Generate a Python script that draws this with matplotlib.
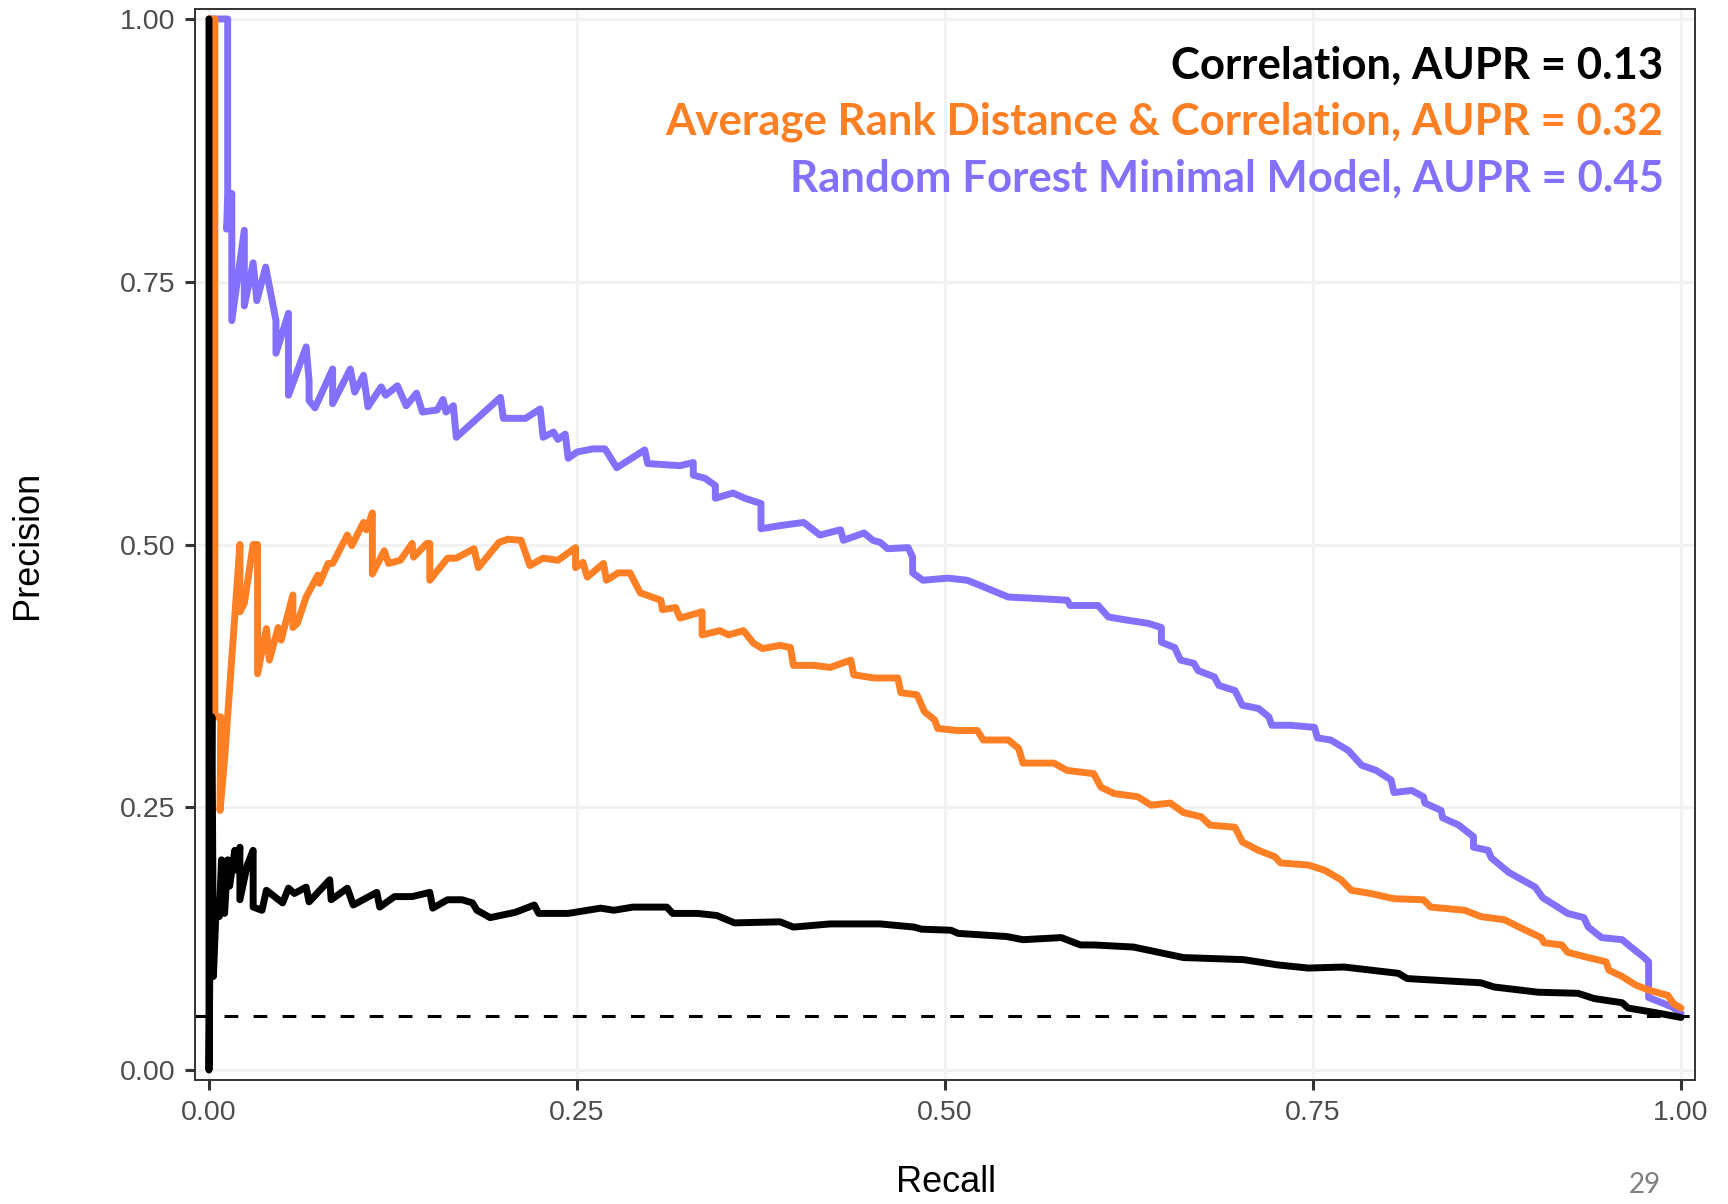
import matplotlib
matplotlib.use("Agg")
import matplotlib.pyplot as plt

# precision-recall points for the three predictors
corr_recall = [0.0, 0.0, 0.002, 0.003, 0.005, 0.007, 0.0085, 0.0106, 0.0127, 0.014, 0.0175, 0.019,
               0.021, 0.021, 0.026, 0.030, 0.030, 0.036, 0.039, 0.050, 0.054, 0.058, 0.066, 0.068,
               0.082, 0.083, 0.094, 0.098, 0.114, 0.116, 0.126, 0.138, 0.150, 0.152, 0.162, 0.172,
               0.179, 0.182, 0.191, 0.208, 0.221, 0.224, 0.244, 0.266, 0.275, 0.288, 0.311, 0.315,
               0.332, 0.345, 0.357, 0.388, 0.397, 0.422, 0.456, 0.479, 0.484, 0.504, 0.509, 0.542,
               0.553, 0.579, 0.592, 0.601, 0.628, 0.662, 0.703, 0.726, 0.747, 0.771, 0.808, 0.814,
               0.851, 0.864, 0.873, 0.903, 0.930, 0.941, 0.960, 0.964, 0.985, 1.0]
corr_precision = [1.0, 0.0, 0.336, 0.089, 0.160, 0.146, 0.200, 0.149, 0.200, 0.175, 0.209, 0.190,
                  0.212, 0.162, 0.195, 0.209, 0.155, 0.152, 0.171, 0.159, 0.173, 0.168, 0.174, 0.160,
                  0.181, 0.162, 0.173, 0.157, 0.169, 0.155, 0.165, 0.165, 0.169, 0.154, 0.162, 0.162,
                  0.159, 0.152, 0.145, 0.150, 0.157, 0.149, 0.149, 0.154, 0.152, 0.155, 0.155, 0.149,
                  0.149, 0.147, 0.140, 0.141, 0.136, 0.139, 0.139, 0.136, 0.134, 0.133, 0.130, 0.127,
                  0.124, 0.126, 0.119, 0.119, 0.117, 0.107, 0.105, 0.100, 0.097, 0.098, 0.092, 0.087,
                  0.084, 0.083, 0.079, 0.074, 0.073, 0.068, 0.064, 0.059, 0.054, 0.050]

rank_recall = [0.0, 0.004, 0.004, 0.008, 0.0075, 0.0107, 0.021, 0.021, 0.024, 0.030, 0.033, 0.033,
               0.039, 0.041, 0.047, 0.049, 0.057, 0.057, 0.060, 0.066, 0.074, 0.075, 0.081, 0.084,
               0.094, 0.097, 0.105, 0.107, 0.111, 0.111, 0.119, 0.122, 0.130, 0.138, 0.139, 0.148,
               0.150, 0.150, 0.162, 0.168, 0.180, 0.183, 0.197, 0.203, 0.212, 0.215, 0.218, 0.227,
               0.237, 0.249, 0.249, 0.254, 0.257, 0.268, 0.270, 0.278, 0.286, 0.293, 0.307, 0.308,
               0.317, 0.320, 0.335, 0.335, 0.347, 0.353, 0.363, 0.370, 0.376, 0.388, 0.395, 0.397,
               0.411, 0.422, 0.436, 0.438, 0.452, 0.468, 0.470, 0.481, 0.486, 0.493, 0.495, 0.508,
               0.522, 0.526, 0.543, 0.550, 0.553, 0.574, 0.583, 0.601, 0.606, 0.615, 0.631, 0.640,
               0.653, 0.662, 0.674, 0.680, 0.697, 0.702, 0.713, 0.724, 0.728, 0.747, 0.758, 0.769,
               0.776, 0.789, 0.805, 0.825, 0.830, 0.853, 0.864, 0.880, 0.890, 0.905, 0.907, 0.919,
               0.923, 0.937, 0.949, 0.951, 0.960, 0.969, 0.978, 0.991, 0.995, 1.0]
rank_precision = [1.0, 1.0, 0.336, 0.336, 0.247, 0.298, 0.500, 0.436, 0.444, 0.500, 0.500, 0.377,
                  0.420, 0.390, 0.421, 0.409, 0.452, 0.421, 0.425, 0.450, 0.471, 0.463, 0.482, 0.482,
                  0.509, 0.499, 0.521, 0.514, 0.530, 0.472, 0.494, 0.482, 0.485, 0.501, 0.488, 0.501,
                  0.501, 0.466, 0.487, 0.487, 0.496, 0.478, 0.502, 0.505, 0.504, 0.492, 0.480, 0.487,
                  0.485, 0.497, 0.478, 0.483, 0.469, 0.482, 0.466, 0.473, 0.473, 0.454, 0.447, 0.438,
                  0.440, 0.430, 0.436, 0.414, 0.418, 0.414, 0.418, 0.406, 0.401, 0.404, 0.402, 0.385,
                  0.385, 0.383, 0.390, 0.376, 0.373, 0.373, 0.359, 0.357, 0.341, 0.333, 0.325, 0.323,
                  0.323, 0.314, 0.314, 0.306, 0.292, 0.292, 0.285, 0.282, 0.269, 0.263, 0.260, 0.252,
                  0.254, 0.245, 0.241, 0.233, 0.231, 0.217, 0.209, 0.203, 0.197, 0.195, 0.190, 0.181,
                  0.171, 0.168, 0.163, 0.162, 0.155, 0.152, 0.146, 0.143, 0.136, 0.126, 0.121, 0.119,
                  0.112, 0.107, 0.103, 0.095, 0.089, 0.081, 0.076, 0.071, 0.063, 0.059]

rf_recall = [0.0, 0.0127, 0.0127, 0.012, 0.0155, 0.0155, 0.024, 0.024, 0.030, 0.0325, 0.0385, 0.0455,
             0.0455, 0.054, 0.054, 0.066, 0.068, 0.068, 0.072, 0.084, 0.084, 0.096, 0.099, 0.105,
             0.108, 0.117, 0.120, 0.128, 0.134, 0.141, 0.145, 0.155, 0.159, 0.161, 0.166, 0.168,
             0.198, 0.200, 0.215, 0.225, 0.227, 0.234, 0.237, 0.242, 0.244, 0.250, 0.261, 0.269,
             0.277, 0.296, 0.298, 0.320, 0.329, 0.329, 0.337, 0.344, 0.344, 0.356, 0.364, 0.375,
             0.375, 0.388, 0.404, 0.415, 0.429, 0.431, 0.445, 0.451, 0.456, 0.461, 0.475, 0.478,
             0.478, 0.485, 0.502, 0.515, 0.524, 0.543, 0.558, 0.583, 0.585, 0.604, 0.611, 0.624,
             0.638, 0.647, 0.647, 0.656, 0.660, 0.669, 0.672, 0.683, 0.686, 0.697, 0.702, 0.713,
             0.720, 0.722, 0.735, 0.751, 0.753, 0.762, 0.774, 0.783, 0.793, 0.803, 0.805, 0.817,
             0.825, 0.826, 0.837, 0.838, 0.849, 0.859, 0.859, 0.869, 0.871, 0.883, 0.892, 0.901,
             0.906, 0.914, 0.923, 0.934, 0.937, 0.946, 0.960, 0.966, 0.975, 0.978, 0.978, 0.994, 1.0]
rf_precision = [1.0, 1.0, 0.834, 0.800, 0.834, 0.713, 0.799, 0.727, 0.768, 0.732, 0.764, 0.713,
                0.682, 0.720, 0.642, 0.688, 0.656, 0.637, 0.630, 0.667, 0.634, 0.667, 0.645, 0.661,
                0.631, 0.650, 0.642, 0.651, 0.632, 0.644, 0.626, 0.628, 0.638, 0.626, 0.632, 0.602,
                0.640, 0.620, 0.620, 0.629, 0.602, 0.607, 0.600, 0.605, 0.582, 0.588, 0.591, 0.591,
                0.573, 0.590, 0.577, 0.575, 0.578, 0.566, 0.563, 0.556, 0.544, 0.549, 0.544, 0.539,
                0.515, 0.518, 0.521, 0.509, 0.514, 0.504, 0.511, 0.504, 0.502, 0.496, 0.497, 0.488,
                0.473, 0.466, 0.468, 0.466, 0.461, 0.450, 0.449, 0.447, 0.442, 0.442, 0.431, 0.428,
                0.425, 0.421, 0.407, 0.402, 0.390, 0.387, 0.380, 0.374, 0.366, 0.361, 0.347, 0.344,
                0.336, 0.328, 0.328, 0.326, 0.316, 0.314, 0.304, 0.290, 0.285, 0.276, 0.264, 0.266,
                0.260, 0.254, 0.247, 0.240, 0.233, 0.222, 0.212, 0.209, 0.202, 0.188, 0.181, 0.174,
                0.164, 0.157, 0.149, 0.145, 0.136, 0.126, 0.124, 0.117, 0.107, 0.103, 0.069, 0.060, 0.054]

baseline = 0.051
labels = ["Correlation, AUPR = 0.13",
          "Average Rank Distance & Correlation, AUPR = 0.32",
          "Random Forest Minimal Model, AUPR = 0.45"]
colors = ["black", "#FF7F24", "#8470FF"]
ticks = [0.0, 0.25, 0.5, 0.75, 1.0]
tick_labels = ["0.00", "0.25", "0.50", "0.75", "1.00"]

plt.rcParams["font.family"] = ["Liberation Sans", "DejaVu Sans"]
narrow = ["Lato", "DejaVu Sans"]

fig = plt.figure(figsize=(17.28, 12.04), dpi=100)
ax = fig.add_axes([0.11285, 0.10299, 0.86805, 0.88953])

ax.axhline(baseline, color="black", lw=2.2, ls=(0, (4.5, 5)), zorder=2)
ax.plot(rf_recall, rf_precision, color=colors[2], lw=5.0, solid_capstyle="round", zorder=3)
ax.plot(rank_recall, rank_precision, color=colors[1], lw=5.0, solid_capstyle="round", zorder=4)
ax.plot(corr_recall, corr_precision, color=colors[0], lw=5.0, solid_capstyle="round", zorder=5)

ax.set_xlim(-0.0095, 1.0095)
ax.set_ylim(-0.0095, 1.0095)
ax.set_xticks(ticks)
ax.set_xticklabels(tick_labels)
ax.set_yticks(ticks)
ax.set_yticklabels(tick_labels)
ax.tick_params(length=7.2, width=2.2, color="#333333", labelsize=20.5, labelcolor="#4D4D4D", pad=7)
ax.grid(True, color="#F2F2F2", lw=2.2, zorder=0)
ax.set_axisbelow(True)
for s in ax.spines.values():
    s.set_linewidth(1.4)
    s.set_color("#333333")

ax.set_xlabel("Recall", fontsize=26)
ax.xaxis.label.set_verticalalignment("center")
ax.xaxis.set_label_coords(0.5007, -0.0955)
ax.set_ylabel("Precision", fontsize=26)
ax.yaxis.label.set_verticalalignment("center")
ax.yaxis.set_label_coords(-0.112, 0.5)

for i, (lab, c) in enumerate(zip(labels, colors)):
    ax.text(0.979, [0.9347, 0.8826, 0.8293][i], lab, transform=ax.transAxes,
            ha="right", va="baseline", color=c, fontsize=31.5, fontweight="bold", family=narrow)

fig.text(1645 / 1728, 1 - 1185 / 1204, "29", ha="center", va="center",
         color="#808080", fontsize=20, family=narrow)

fig.savefig("out.png", dpi=100)
